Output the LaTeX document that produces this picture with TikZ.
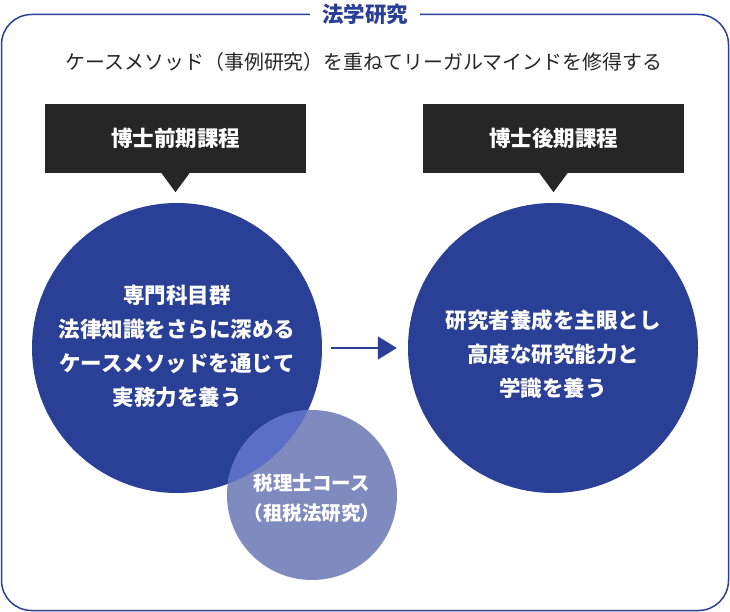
\documentclass[tikz,border=0pt]{standalone}
\usepackage{fontspec}
\setmainfont{Noto Sans CJK JP}
\usetikzlibrary{arrows.meta}
\definecolor{navy}{HTML}{2A3F96}
\definecolor{boxblack}{HTML}{262626}
\definecolor{lightc}{HTML}{7F8BBF}
\definecolor{overlapc}{HTML}{5B6FC6}
\tikzset{
  frame/.style={draw=navy, line width=1.5pt, rounded corners=30pt},
  headbox/.style={fill=boxblack, text=white, minimum width=261pt, minimum height=69pt, inner sep=0pt, font=\bfseries\fontsize{21.5}{26}\selectfont},
  pointer/.style={fill=boxblack},
  bigcirc/.style={circle, fill=navy, minimum size=290pt, inner sep=0pt},
  smallcirc/.style={circle, fill=lightc, minimum size=170pt, inner sep=0pt},
  ctext/.style={text=white, align=center, font=\bfseries\fontsize{21.5}{34}\selectfont},
  stext/.style={text=white, align=center, font=\bfseries\fontsize{19.5}{30}\selectfont},
  flow/.style={draw=navy, line width=1.5pt, -{Triangle[length=19pt,width=23pt]}},
}
\begin{document}
\begin{tikzpicture}[x=1pt,y=-1pt]
\useasboundingbox (0,0) rectangle (730,612);
\draw[frame] (1.5,14.5) rectangle (728.5,610.5);
\node[fill=white, inner xsep=12pt, inner ysep=2pt, text=navy, font=\bfseries\fontsize{21.5}{26}\selectfont] (title) at (365,14) {法学研究};
\node[font=\fontsize{19.9}{24}\selectfont, text=black!85] (sub) at (364,62) {ケースメソッド（事例研究）を重ねてリーガルマインドを修得する};

\node[headbox] (h1) at (175.5,138.5) {博士前期課程};
\node[headbox] (h2) at (553.5,138.5) {博士後期課程};
\fill[pointer] ([xshift=-14pt]h1.south) -- ([xshift=14pt]h1.south) -- ([yshift=-19pt]h1.south) -- cycle;
\fill[pointer] ([xshift=-14pt]h2.south) -- ([xshift=14pt]h2.south) -- ([yshift=-19pt]h2.south) -- cycle;

\node[bigcirc] (L) at (177,348) {};
\node[bigcirc] (R) at (553,348) {};
\node[smallcirc] (S) at (312,495) {};
\begin{scope}
  \clip (L.center) circle (145pt);
  \fill[overlapc] (S.center) circle (85pt);
\end{scope}

\node[ctext] (Lt) at (177,346) {専門科目群\\法律知識をさらに深める\\ケースメソッドを通じて\\実務力を養う};
\node[ctext] (Rt) at (553,354) {研究者養成を主眼とし\\高度な研究能力と\\学識を養う};
\node[stext] (St) at (312,498) {税理士コース\\（租税法研究）};

\draw[flow, shorten <=9pt, shorten >=11pt] (L.east) -- (R.west);
\end{tikzpicture}
\end{document}
